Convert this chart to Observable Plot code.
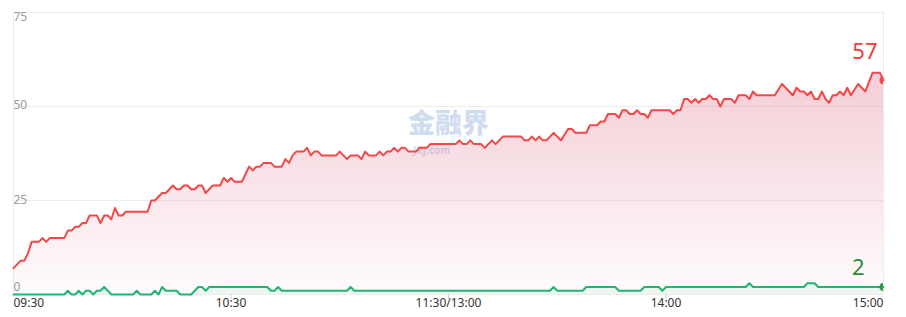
<!DOCTYPE html>
<html>
<head>
<meta charset="utf-8">
<script src="https://cdn.jsdelivr.net/npm/d3@7"></script>
<script src="https://cdn.jsdelivr.net/npm/@observablehq/plot@0.6"></script>
<style>
  html, body { margin: 0; padding: 0; background: #fff; }
  #chart { width: 906px; height: 317px; }
</style>
</head>
<body>
<div id="chart"></div>
<script>
// ---- data (minutes since 09:30 on a trading-time axis) ----
const redMinutes = [0,2,3,4,5,7,8,9,10,14,15,16,17,18,19,20,21,23,24,25,26,27,28,29,30,31,37,38,39,41,42,44,45,46,47,48,49,50,51,52,53,55,57,58,59,60,61,63,65,66,67,68,69,71,72,74,75,76,77,78,80,81,82,83,84,85,89,90,91,92,93,95,96,97,98,100,101,102,103,104,105,106,107,108,109,111,112,114,115,122,123,124,125,126,127,129,130,132,133,135,140,141,142,143,144,145,146,147,149,151,153,154,155,158,159,161,162,163,164,166,167,168,169,170,171,172,173,174,175,176,181,182,183,184,185,186,187,188,189,190,191,192,193,194,195,196,198,199,200,202,203,204,205,210,212,215,216,217,218,219,220,221,222,223,224,225,226,227,228,229,230,231,233,235,237,239,240];
const redValues  = [7,9,9,11,14,14,15,14,15,15,17,17,18,18,19,19,21,21,19,21,21,20,23,21,21,22,22,25,25,27,27,29,28,28,29,29,28,28,29,29,27,29,29,31,30,31,30,30,34,33,34,34,35,35,34,34,36,35,37,38,38,39,37,38,38,37,37,38,37,36,37,37,36,38,37,37,38,37,38,38,39,38,39,39,38,38,39,39,40,40,41,40,40,41,40,40,39,41,40,42,42,41,41,42,41,42,41,41,43,41,44,44,43,43,45,45,46,46,48,48,47,49,49,48,48,49,48,48,47,49,49,48,49,49,52,52,51,52,51,52,52,53,52,52,50,52,52,51,53,53,52,54,53,53,56,53,55,54,54,53,54,52,52,54,52,51,53,53,54,53,55,53,56,54,59,59,57];

const greenMinutes = [0,14,15,16,17,18,19,20,21,22,23,24,25,27,33,34,35,38,39,40,41,42,45,46,49,51,52,53,54,70,71,72,73,74,92,93,94,148,149,150,157,158,166,167,173,174,178,179,180,202,203,204,218,219,221,222,240];
const greenValues  = [0,0,1,0,0,1,0,1,1,0,1,1,2,0,0,1,0,0,1,0,2,1,1,0,0,2,2,1,2,2,1,1,2,1,1,2,1,1,2,1,1,2,2,1,1,2,2,1,2,2,3,2,2,3,3,2,2];

const xTickMinutes = [0, 60, 120, 180, 240];
const xTickLabels  = ["09:30", "10:30", "11:30/13:00", "14:00", "15:00"];
const yTicks = [75, 50, 25, 0];
const watermarkMain = "金融界";
const watermarkSub = "JRJ.com";

// ---- tables ----
const red = redMinutes.map((m, i) => ({m, v: redValues[i]}));
const green = greenMinutes.map((m, i) => ({m, v: greenValues[i]}));
const xTicks = xTickMinutes.map((m, i) => ({m, label: xTickLabels[i]}));
const redLast = [red[red.length - 1]];
const greenLast = [green[green.length - 1]];

// ---- styles ----
const RED = "#f24848", GREEN = "#1fb574";
const yLabelDy = {75: 5, 50: -1, 25: 0, 0: -7};

const chart = Plot.plot({
  width: 906,
  height: 317,
  marginLeft: 13,
  marginRight: 23,
  marginTop: 12,
  marginBottom: 23,
  style: {fontFamily: "'Noto Sans', 'Noto Sans CJK SC', sans-serif", fontSize: "12px", background: "#fff", overflow: "visible"},
  x: {type: "linear", domain: [0, 240], label: null},
  y: {domain: [0, 75], label: null, axis: null},
  marks: [
    Plot.gridY(yTicks, {stroke: "#ececec", strokeOpacity: 1}),
    Plot.ruleX([0, 240], {stroke: "#ececec"}),
    Plot.text([watermarkMain], {text: d => d, frameAnchor: "middle", dy: -29, fontSize: 27, fontWeight: "900",
      letterSpacing: "4px", fill: "#c3d4ee", fillOpacity: 0.8, fontFamily: "'Noto Sans CJK SC', sans-serif"}),
    Plot.text([watermarkSub], {text: d => d, frameAnchor: "middle", dx: -17, dy: -3, fontSize: 10, fontWeight: "bold",
      letterSpacing: "1px", fill: "#c3d4ee", fillOpacity: 0.8}),
    Plot.areaY(red, {x: "m", y: "v", fill: "url(#redGrad)"}),
    Plot.areaY(green, {x: "m", y: "v", fill: GREEN, fillOpacity: 0.07}),
    Plot.lineY(red, {x: "m", y: "v", stroke: RED, strokeWidth: 2}),
    Plot.lineY(green, {x: "m", y: "v", stroke: GREEN, strokeWidth: 2}),
    Plot.dot(redLast, {x: "m", y: "v", r: 4, fill: RED, clip: true}),
    Plot.dot(greenLast, {x: "m", y: "v", r: 4, fill: "#2a9a45", clip: true}),
    Plot.text(redLast, {x: "m", y: "v", text: d => String(d.v), textAnchor: "end", lineAnchor: "bottom",
      dx: -6, dy: -21, fontSize: 22, fill: "#f03c3c"}),
    Plot.text(greenLast, {x: "m", y: "v", text: d => String(d.v), textAnchor: "end", lineAnchor: "bottom",
      dx: -19, dy: -12, fontSize: 22, fill: "#2a8a3a"}),
    ...yTicks.map(t => Plot.text([t], {y: d => d, text: d => String(d), frameAnchor: "left", textAnchor: "start",
      dy: yLabelDy[t], fill: "#9a9a9a", fontSize: 12})),
    Plot.axisX(xTickMinutes.slice(1, -1), {tickSize: 5, tickFormat: () => "", stroke: "#cdd3dc", label: null}),
    Plot.text(xTicks.slice(0, 1), {x: "m", text: "label", frameAnchor: "bottom", dy: 12, textAnchor: "start", fill: "#333"}),
    Plot.text(xTicks.slice(1, -1), {x: "m", text: "label", frameAnchor: "bottom", dy: 12, textAnchor: "middle", fill: "#333"}),
    Plot.text(xTicks.slice(-1), {x: "m", text: "label", frameAnchor: "bottom", dy: 12, textAnchor: "end", fill: "#333"})
  ]
});

d3.select(chart).insert("defs", ":first-child").html(
  '<linearGradient id="redGrad" x1="0" y1="0" x2="0" y2="1">' +
  '<stop offset="0%" stop-color="#dc5a78" stop-opacity="0.30"/>' +
  '<stop offset="100%" stop-color="#dc5a78" stop-opacity="0.02"/>' +
  '</linearGradient>'
);

document.getElementById("chart").appendChild(chart);
</script>
</body>
</html>
